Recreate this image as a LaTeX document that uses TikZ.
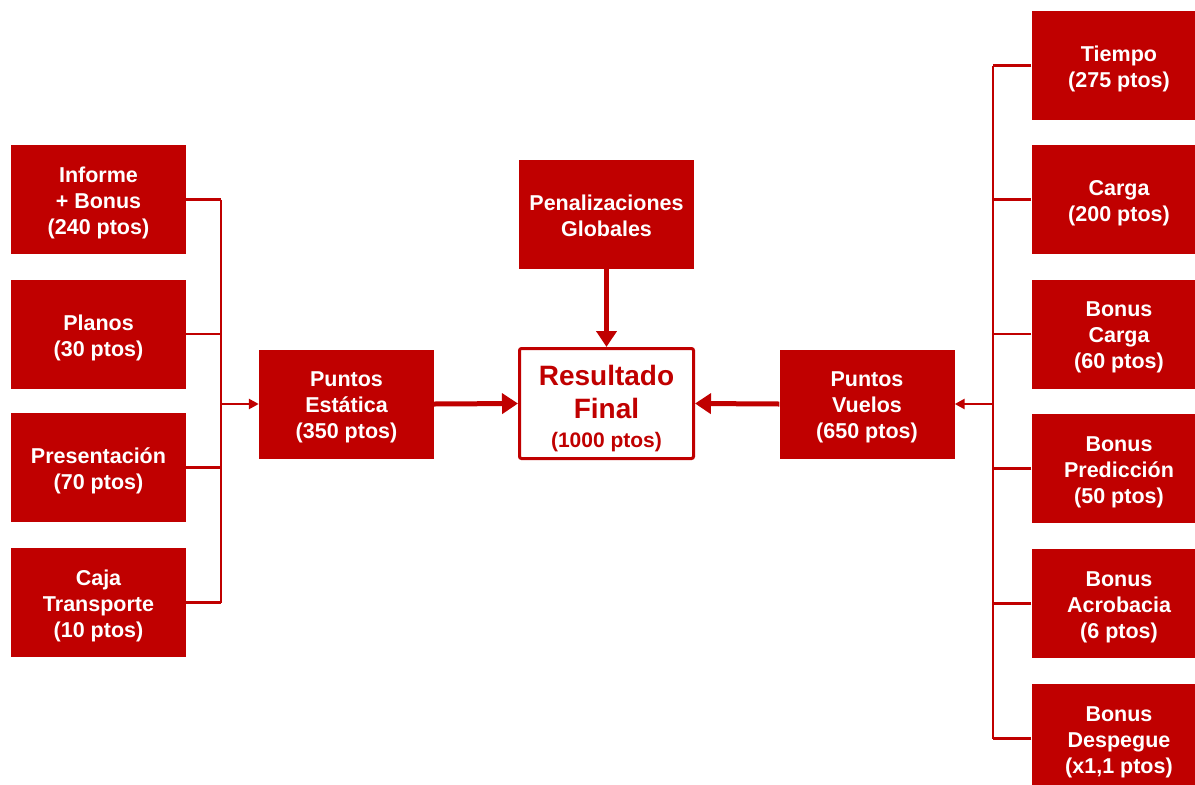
\documentclass[tikz,border=0pt]{standalone}
\usepackage{fontspec}
\setmainfont{Liberation Sans}
\usetikzlibrary{arrows.meta}
\definecolor{rojo}{HTML}{C00000}
\begin{document}
\begin{tikzpicture}[x=1pt,y=-1pt,
  box/.style={fill=rojo, text=white, font=\bfseries\fontsize{21.5}{26}\selectfont, align=center,
    minimum width=175pt, minimum height=109pt, inner sep=0pt, anchor=center},
  boxtext/.style={text=white, font=\bfseries\fontsize{21.5}{26}\selectfont, align=center, inner sep=0pt},
  conn/.style={draw=rojo, line width=2.5pt},
  smallarrow/.style={conn, -{Triangle[length=10pt,width=10pt]}},
  bigarrow/.style={draw=rojo, line width=5pt, -{Triangle[length=16pt,width=20pt]}},
  result/.style={draw=rojo, fill=white, line width=3pt, rounded corners=2pt, text=rojo, align=center,
    font=\bfseries\fontsize{28}{33}\selectfont,
    minimum width=174pt, minimum height=110pt, inner sep=0pt, anchor=center}]
\useasboundingbox (0,0) rectangle (1195,785);
% left column
\node[box, label={[boxtext,yshift=-3.5pt]center:Informe\\+ Bonus\\(240 ptos)}] (inf) at (98.5,199.5) {};
\node[box, label={[boxtext,yshift=-3.5pt]center:Planos\\(30 ptos)}] (pla) at (98.5,334) {};
\node[box, label={[boxtext,yshift=-3.5pt]center:Presentación\\(70 ptos)}] (pre) at (98.5,467.5) {};
\node[box, label={[boxtext,yshift=-3.5pt]center:Caja\\Transporte\\(10 ptos)}] (caj) at (98.5,602.5) {};
\coordinate (busL) at (221,404);
% center
\node[box, label={[boxtext,yshift=-3.5pt]center:Puntos\\Estática\\(350 ptos)}] (est) at (346.5,404) {};
\node[box, label={[boxtext,yshift=-1pt]center:Penalizaciones\\Globales}] (pen) at (606.5,214.5) {};
\node[result, label={[text=rojo, align=center, font=\bfseries\fontsize{28}{33}\selectfont, inner sep=0pt, yshift=-5pt]center:Resultado\\Final\\[-4pt]{\fontsize{21}{24}\selectfont (1000 ptos)}}] (res) at (606.5,403.5) {};
\node[box, label={[boxtext,yshift=-3.5pt]center:Puntos\\Vuelos\\(650 ptos)}] (vue) at (867,404) {};
% right column
\node[box, label={[boxtext,yshift=-3.5pt]center:Tiempo\\(275 ptos)}] (tie) at (1119,65.5) {};
\node[box, label={[boxtext,yshift=-3.5pt]center:Carga\\(200 ptos)}] (car) at (1119,199.5) {};
\node[box, label={[boxtext,yshift=-3.5pt]center:Bonus\\Carga\\(60 ptos)}] (bca) at (1119,334) {};
\node[box, label={[boxtext,yshift=-3.5pt]center:Bonus\\Predicción\\(50 ptos)}] (bpr) at (1119,468.5) {};
\node[box, label={[boxtext,yshift=-3.5pt]center:Bonus\\Acrobacia\\(6 ptos)}] (bac) at (1119,603.5) {};
\node[box, label={[boxtext,yshift=-3.5pt]center:Bonus\\Despegue\\(x1,1 ptos)}] (bde) at (1119,738.5) {};
\coordinate (busR) at (993,404);
% left connectors
\foreach \n in {inf,pla,pre,caj} \draw[conn] (\n.east) -- (\n.east -| busL);
\draw[conn] (inf.east -| busL) -- (caj.east -| busL);
\draw[smallarrow] (busL) -- (est.west);
% right connectors
\foreach \n in {tie,car,bca,bpr,bac,bde} \draw[conn] (\n.west) -- (\n.west -| busR);
\draw[conn] (tie.west -| busR) -- (bde.west -| busR);
\draw[smallarrow] (busR) -- (vue.east);
% main arrows
\draw[bigarrow] (est.east) -- (res.west);
\draw[bigarrow] (vue.west) -- (res.east);
\draw[bigarrow] (pen.south) -- (res.north);
\end{tikzpicture}
\end{document}
